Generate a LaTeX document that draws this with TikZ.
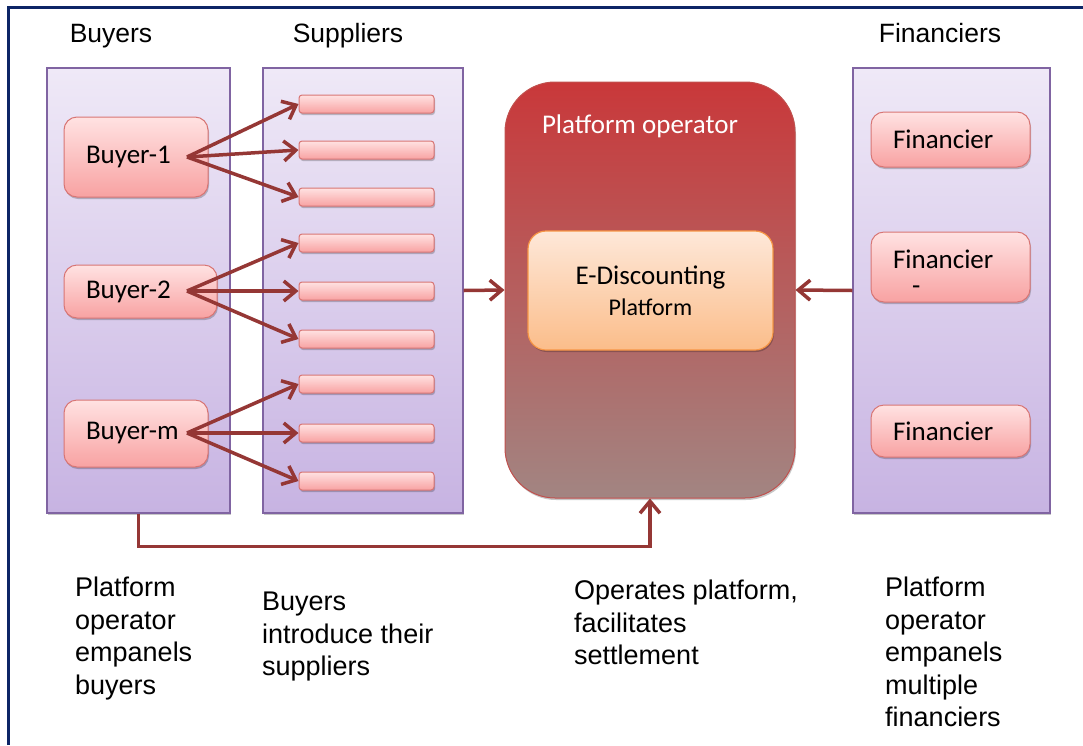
\documentclass[tikz,border=0pt]{standalone}
\usepackage{fontspec}
\setmainfont{Liberation Sans}
\newfontfamily\boxfont{Carlito}
\usetikzlibrary{arrows.meta,shadows}

\definecolor{laneTop}{HTML}{EFE9F7}
\definecolor{laneBot}{HTML}{C7B3E2}
\definecolor{laneLine}{HTML}{8064A2}
\definecolor{pinkTop}{HTML}{FFE2E2}
\definecolor{pinkBot}{HTML}{F8A2A2}
\definecolor{pinkLine}{HTML}{D87574}
\definecolor{opTop}{HTML}{C9383A}
\definecolor{opBot}{HTML}{A28582}
\definecolor{opLine}{HTML}{C0504D}
\definecolor{orTop}{HTML}{FEE8D9}
\definecolor{orBot}{HTML}{FBBD8A}
\definecolor{orLine}{HTML}{F79646}
\definecolor{arrowRed}{HTML}{953735}
\definecolor{frameBlue}{HTML}{0D2566}

\begin{document}
\begin{tikzpicture}[x=1pt,y=-1pt,
  softshadow/.style={drop shadow={shadow xshift=1pt, shadow yshift=-2pt, opacity=0.22, fill=black}},
  lane/.style={draw=laneLine, line width=1.2, top color=laneTop, bottom color=laneBot,
    inner sep=0, minimum height=445, softshadow},
  party/.style={draw=pinkLine, line width=1, top color=pinkTop, bottom color=pinkBot,
    rounded corners=13, inner xsep=22, inner ysep=0, align=left, softshadow,
    font=\boxfont\fontsize{27}{26}\selectfont},
  bar/.style={draw=pinkLine, line width=1, top color=pinkTop, bottom color=pinkBot,
    rounded corners=3, minimum width=135, minimum height=18, inner sep=0, softshadow},
  head/.style={anchor=base, font=\fontsize{26.5}{30}\selectfont},
  note/.style={anchor=north west, align=left, inner sep=0, font=\fontsize{27}{32.5}\selectfont},
  arr/.style={draw=arrowRed, line width=3.5,
    -{Straight Barb[length=12pt, width=20pt, line width=3.5pt]}}
]
\useasboundingbox (0,0) rectangle (1083,745);

% page frame (top and left rules)
\draw[frameBlue, line width=3] (8,745) -- (8,7) -- (1083,7);

% column headers
\node[head] (hBuyers) at (111,42) {Buyers};
\node[head] (hSuppliers) at (348,42) {Suppliers};
\node[head] (hFinanciers) at (940,42) {Financiers};

% lanes
\node[lane, minimum width=183] (buyers) at (138.5,290.5) {};
\node[lane, minimum width=200] (suppliers) at (363,290.5) {};
\node[lane, minimum width=197] (financiers) at (951.5,290.5) {};

% platform operator and the e-discounting platform
\node[draw=opLine, line width=1, top color=opTop, bottom color=opBot, rounded corners=50,
  minimum width=290, minimum height=416, inner sep=0, softshadow] (op) at (650,290) {};
\node[anchor=base, text=white, font=\boxfont\fontsize{27}{30}\selectfont] (opTitle) at (640,133) {Platform operator};
\node[draw=orLine, line width=1.2, top color=orTop, bottom color=orBot, rounded corners=18,
  minimum width=245, minimum height=119, inner sep=0, align=center, softshadow,
  font=\boxfont\fontsize{27}{31}\selectfont] (edp) at (650.5,290.5)
  {E-Discounting\\{\fontsize{24}{31}\selectfont Platform}};

% buyers
\node[party, text width=100, minimum height=80] (b1) at (136,157) {Buyer-1};
\node[party, text width=109, minimum height=53] (b2) at (140.5,291.5) {Buyer-2};
\node[party, text width=100, minimum height=67] (bm) at (136,433.5) {Buyer-m};

% suppliers
\foreach \i/\y in {1/104,2/150,3/197,4/243,5/291,6/339,7/384,8/433,9/481}
  \node[bar] (s\i) at (366.5,\y) {};

% financiers
\node[party, text width=115, minimum height=55] (f1) at (950.5,139.5) {Financier};
\node[party, text width=115, minimum height=70] (f2) at (950.5,267)
  {\rule{0pt}{29pt}Financier\\\hspace*{19pt}-};
\node[party, text width=115, minimum height=52] (f3) at (950.5,431) {Financier};

% buyers introduce their suppliers
\coordinate (b1o) at (187,157);
\coordinate (b2o) at (187,291);
\coordinate (bmo) at (187,433);
\foreach \s in {1,2,3} \draw[arr] (b1o) -- (s\s.west);
\foreach \s in {4,5,6} \draw[arr] (b2o) -- (s\s.west);
\foreach \s in {7,8,9} \draw[arr] (bmo) -- (s\s.west);

% flows into the platform
\draw[arr] (suppliers.east) -- (op.west);
\draw[arr] (financiers.west) -- (op.east);
\draw[arr] (buyers.south) -- ++(0,33) -| (op.south);

% captions
\node[note] (cBuyers) at (75,577) {Platform\\operator\\empanels\\buyers};
\node[note] (cSuppliers) at (262,592) {Buyers\\introduce their\\suppliers};
\node[note] (cOp) at (574,580) {Operates platform,\\facilitates\\settlement};
\node[note] (cFin) at (885,577) {Platform\\operator\\empanels\\multiple\\financiers};
\end{tikzpicture}
\end{document}
